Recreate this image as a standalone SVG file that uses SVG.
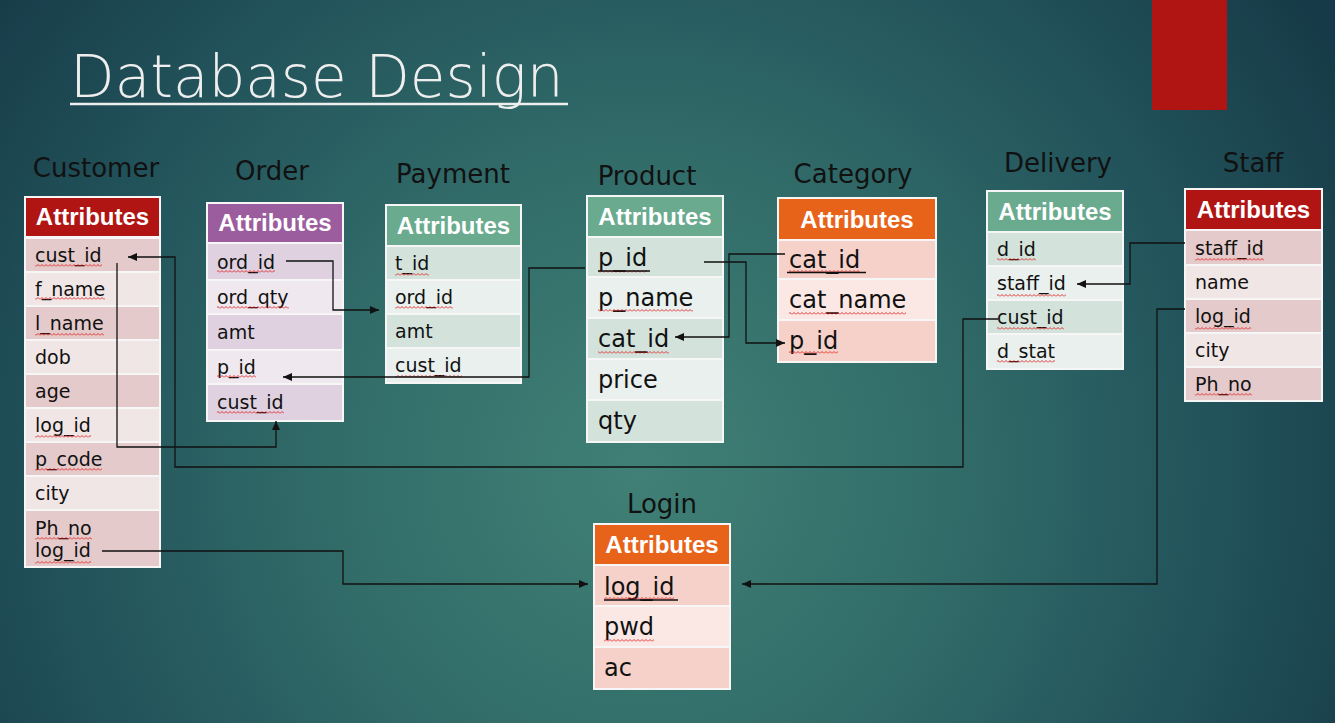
<svg xmlns="http://www.w3.org/2000/svg" width="1335" height="723" viewBox="0 0 1335 723">
<defs>
<radialGradient id="bg" cx="640" cy="470" r="820" gradientUnits="userSpaceOnUse">
<stop offset="0" stop-color="#408076"/>
<stop offset="0.35" stop-color="#336e6a"/>
<stop offset="0.7" stop-color="#22535b"/>
<stop offset="1" stop-color="#163a47"/>
</radialGradient>
<pattern id="wv" width="4" height="3" patternUnits="userSpaceOnUse">
<polyline points="0,2.5 2,0.5 4,2.5" fill="none" stroke="#e02424" stroke-width="0.9"/>
</pattern>
<marker id="arr" markerWidth="9" markerHeight="8" refX="9" refY="4" orient="auto" markerUnits="userSpaceOnUse">
<path d="M0,0 L9,4 L0,8 z" fill="#111"/>
</marker>
<style>
.t{font-family:"DejaVu Sans",sans-serif;font-size:26px;fill:#111;text-anchor:middle}
.h{font-family:"Liberation Sans",Arial,sans-serif;font-weight:bold;font-size:24px;fill:#fff;text-anchor:middle}
.r{font-family:"DejaVu Sans",sans-serif;font-size:19px;fill:#111}
.L{font-size:24px}
.wv{fill:url(#wv)}
.ul{stroke:#111;stroke-width:1.5}
.c{fill:none;stroke:#111;stroke-width:1.3;marker-end:url(#arr)}
.n{fill:none;stroke:#111;stroke-width:1.3}
.bd{fill:#f6f6f6}
.red{fill:#b01513}.pur{fill:#9b5d9d}.grn{fill:#6aab8f}.org{fill:#e8631a}
.rd{fill:#e4caca}.rl{fill:#f1e6e6}
.pd{fill:#dfd1e0}.pl{fill:#efe8ef}
.gd{fill:#d3e3dc}.gl{fill:#e9f0ed}
.od{fill:#f6d1c9}.ol{fill:#fbe8e5}
</style>
</defs>
<rect width="1335" height="723" fill="url(#bg)"/>
<rect x="1152" y="0" width="75" height="110" fill="#b01513"/>
<g id="title">
<text x="70" y="97" font-family="'DejaVu Sans',sans-serif" font-weight="200" font-size="58" fill="#eeeeee">Database Design</text>
<line x1="70" y1="104" x2="568" y2="104" stroke="#eeeeee" stroke-width="2.5"/>
</g>

<g id="customer">
<text class="t" x="96" y="177">Customer</text>
<rect class="bd" x="24" y="196" width="137" height="372"/>
<rect class="red" x="26" y="198" width="133" height="38"/>
<text class="h" x="92.5" y="225">Attributes</text>
<rect class="rd" x="26" y="239" width="133" height="32"/>
<rect class="rl" x="26" y="273" width="133" height="32"/>
<rect class="rd" x="26" y="307" width="133" height="32"/>
<rect class="rl" x="26" y="341" width="133" height="32"/>
<rect class="rd" x="26" y="375" width="133" height="32"/>
<rect class="rl" x="26" y="409" width="133" height="32"/>
<rect class="rd" x="26" y="443" width="133" height="32"/>
<rect class="rl" x="26" y="477" width="133" height="32"/>
<rect class="rd" x="26" y="511" width="133" height="55"/>
<text class="r" x="35" y="262">cust_id</text>
<text class="r" x="35" y="296">f_name</text>
<text class="r" x="35" y="330">l_name</text>
<text class="r" x="35" y="364">dob</text>
<text class="r" x="35" y="398">age</text>
<text class="r" x="35" y="432">log_id</text>
<text class="r" x="35" y="466">p_code</text>
<text class="r" x="35" y="500">city</text>
<text class="r" x="35" y="535">Ph_no</text>
<text class="r" x="35" y="557">log_id</text>
<rect class="wv" x="35" y="264" width="67" height="3"/>
<rect class="wv" x="35" y="297" width="70" height="3"/>
<rect class="wv" x="35" y="333" width="69" height="3"/>
<rect class="wv" x="35" y="435" width="56" height="3"/>
<rect class="wv" x="35" y="468" width="67" height="3"/>
<rect class="wv" x="35" y="537" width="57" height="3"/>
<rect class="wv" x="35" y="561" width="56" height="3"/>
</g>

<g id="order">
<text class="t" x="272" y="180">Order</text>
<rect class="bd" x="206" y="202" width="138" height="220"/>
<rect class="pur" x="208" y="204" width="134" height="38"/>
<text class="h" x="275" y="231">Attributes</text>
<rect class="pd" x="208" y="244" width="134" height="35"/>
<rect class="pl" x="208" y="281" width="134" height="32"/>
<rect class="pd" x="208" y="315" width="134" height="34"/>
<rect class="pl" x="208" y="351" width="134" height="32"/>
<rect class="pd" x="208" y="385" width="134" height="35"/>
<text class="r" x="217" y="269">ord_id</text>
<text class="r" x="217" y="304">ord_qty</text>
<text class="r" x="217" y="339">amt</text>
<text class="r" x="217" y="374">p_id</text>
<text class="r" x="217" y="409">cust_id</text>
<rect class="wv" x="217" y="270" width="58" height="3"/>
<rect class="wv" x="217" y="306" width="72" height="3"/>
<rect class="wv" x="217" y="375" width="39" height="3"/>
<rect class="wv" x="217" y="411" width="67" height="3"/>
</g>

<g id="payment">
<text class="t" x="453" y="183">Payment</text>
<rect class="bd" x="385" y="204" width="137" height="180"/>
<rect class="grn" x="387" y="206" width="133" height="39"/>
<text class="h" x="453.5" y="233.5">Attributes</text>
<rect class="gd" x="387" y="247" width="133" height="32"/>
<rect class="gl" x="387" y="281" width="133" height="32"/>
<rect class="gd" x="387" y="315" width="133" height="32"/>
<rect class="gl" x="387" y="349" width="133" height="33"/>
<text class="r" x="395" y="270">t_id</text>
<text class="r" x="395" y="304">ord_id</text>
<text class="r" x="395" y="338">amt</text>
<text class="r" x="395" y="372">cust_id</text>
<rect class="wv" x="395" y="273" width="34" height="3"/>
<rect class="wv" x="395" y="306" width="58" height="3"/>
<rect class="wv" x="395" y="375" width="67" height="3"/>
</g>

<g id="product">
<text class="t" x="647" y="185">Product</text>
<rect class="bd" x="586" y="195" width="138" height="248"/>
<rect class="grn" x="588" y="197" width="134" height="39"/>
<text class="h" x="655" y="224.5">Attributes</text>
<rect class="gd" x="588" y="238" width="134" height="38"/>
<rect class="gl" x="588" y="278" width="134" height="39"/>
<rect class="gd" x="588" y="319" width="134" height="39"/>
<rect class="gl" x="588" y="360" width="134" height="39"/>
<rect class="gd" x="588" y="401" width="134" height="40"/>
<text class="r L" x="598" y="266">p_id</text>
<text class="r L" x="598" y="306">p_name</text>
<text class="r L" x="598" y="347">cat_id</text>
<text class="r L" x="598" y="388">price</text>
<text class="r L" x="598" y="429">qty</text>
<rect class="wv" x="598" y="270" width="49" height="3"/>
<line class="ul" x1="598" y1="271" x2="650" y2="271"/>
<rect class="wv" x="598" y="309" width="95" height="3"/>
<rect class="wv" x="598" y="351" width="71" height="3"/>
</g>

<g id="category">
<text class="t" x="853" y="183">Category</text>
<rect class="bd" x="777" y="197" width="160" height="166"/>
<rect class="org" x="779" y="199" width="156" height="40"/>
<text class="h" x="857" y="227.5">Attributes</text>
<rect class="od" x="779" y="241" width="156" height="37"/>
<rect class="ol" x="779" y="280" width="156" height="39"/>
<rect class="od" x="779" y="321" width="156" height="40"/>
<text class="r L" x="789" y="268">cat_id</text>
<text class="r L" x="789" y="308">cat_name</text>
<text class="r L" x="789" y="349">p_id</text>
<rect class="wv" x="789" y="270" width="71" height="3"/>
<line class="ul" x1="787" y1="272.5" x2="866" y2="272.5"/>
<rect class="wv" x="789" y="312" width="117" height="3"/>
<rect class="wv" x="789" y="351" width="49" height="3"/>
</g>

<g id="delivery">
<text class="t" x="1058" y="172">Delivery</text>
<rect class="bd" x="986" y="190" width="138" height="180"/>
<rect class="grn" x="988" y="192" width="134" height="39"/>
<text class="h" x="1055" y="219.5">Attributes</text>
<rect class="gd" x="988" y="233" width="134" height="32"/>
<rect class="gl" x="988" y="267" width="134" height="32"/>
<rect class="gd" x="988" y="301" width="134" height="32"/>
<rect class="gl" x="988" y="335" width="134" height="33"/>
<text class="r" x="997" y="256">d_id</text>
<text class="r" x="997" y="290">staff_id</text>
<text class="r" x="997" y="324">cust_id</text>
<text class="r" x="997" y="358">d_stat</text>
<rect class="wv" x="997" y="258" width="39" height="3"/>
<rect class="wv" x="997" y="294" width="69" height="3"/>
<rect class="wv" x="997" y="327" width="67" height="3"/>
<rect class="wv" x="997" y="360" width="58" height="3"/>
</g>

<g id="staff">
<text class="t" x="1253" y="172">Staff</text>
<rect class="bd" x="1184" y="188" width="139" height="214"/>
<rect class="red" x="1186" y="190" width="135" height="39"/>
<text class="h" x="1253.5" y="217.5">Attributes</text>
<rect class="rd" x="1186" y="231" width="135" height="33"/>
<rect class="rl" x="1186" y="266" width="135" height="32"/>
<rect class="rd" x="1186" y="300" width="135" height="32"/>
<rect class="rl" x="1186" y="334" width="135" height="32"/>
<rect class="rd" x="1186" y="368" width="135" height="32"/>
<text class="r" x="1195" y="255">staff_id</text>
<text class="r" x="1195" y="289">name</text>
<text class="r" x="1195" y="323">log_id</text>
<text class="r" x="1195" y="357">city</text>
<text class="r" x="1195" y="391">Ph_no</text>
<rect class="wv" x="1195" y="258" width="69" height="3"/>
<rect class="wv" x="1195" y="327" width="56" height="3"/>
<rect class="wv" x="1195" y="393" width="57" height="3"/>
</g>

<g id="login">
<text class="t" x="662" y="513">Login</text>
<rect class="bd" x="593" y="523" width="138" height="167"/>
<rect class="org" x="595" y="525" width="134" height="39"/>
<text class="h" x="662" y="552.5">Attributes</text>
<rect class="od" x="595" y="566" width="134" height="39"/>
<rect class="ol" x="595" y="607" width="134" height="39"/>
<rect class="od" x="595" y="648" width="134" height="40"/>
<text class="r L" x="604" y="595">log_id</text>
<text class="r L" x="604" y="635">pwd</text>
<text class="r L" x="604" y="676">ac</text>
<rect class="wv" x="604" y="597" width="70" height="3"/>
<line class="ul" x1="604" y1="600" x2="678" y2="600"/>
<rect class="wv" x="604" y="639" width="50" height="3"/>
</g>

<g id="connectors">
<path class="c" d="M998,319 H963 V467 H175 V257 H128"/>
<path class="c" d="M117,263 V447 H276 V421"/>
<path class="c" d="M286,261 H333 V310 H379"/>
<path class="c" d="M585,268 H529 V377 H283"/>
<path class="c" d="M704,262 H746 V343 H785"/>
<path class="c" d="M785,254 H729 V337 H675"/>
<path class="c" d="M1185,243 H1130 V284 H1077"/>
<path class="c" d="M1185,309 H1157 V584 H742"/>
<path class="c" d="M102,551 H343 V584 H588"/>
</g>
</svg>
